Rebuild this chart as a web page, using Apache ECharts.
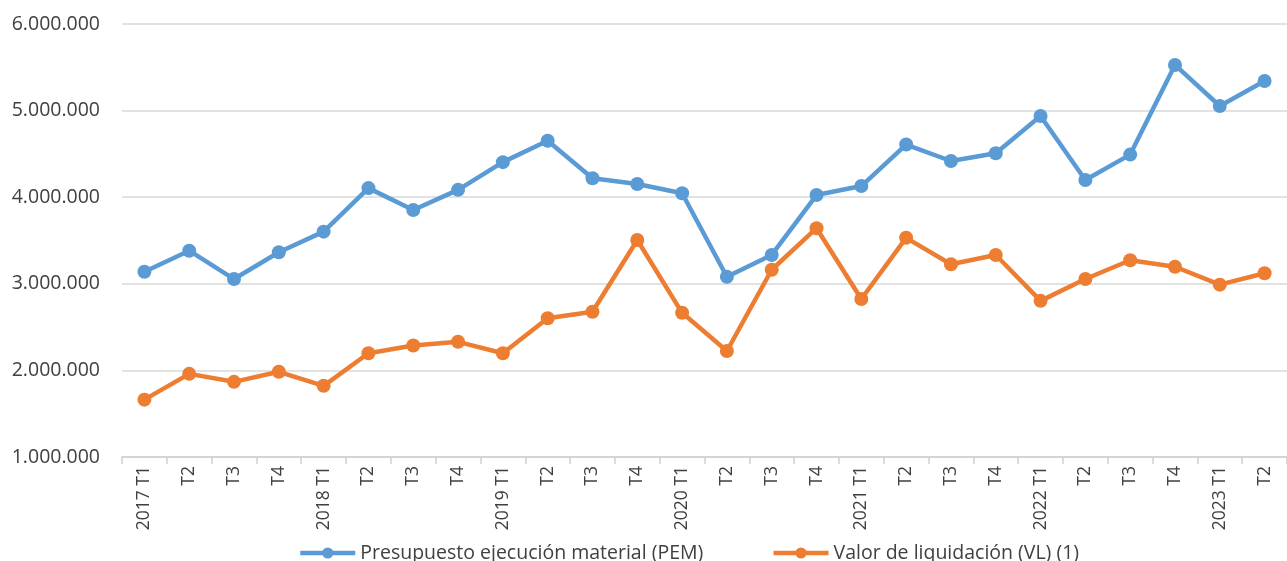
<!DOCTYPE html>
<html>
<head>
<meta charset="utf-8">
<script src="https://cdn.jsdelivr.net/npm/echarts@6/dist/echarts.min.js"></script>
<style>
html,body{margin:0;padding:0;background:#fff;}
#c{width:1287px;height:561px;}
</style>
</head>
<body>
<div id="c"></div>
<script>
const categories = ["2017 T1","T2","T3","T4","2018 T1","T2","T3","T4","2019 T1","T2","T3","T4","2020 T1","T2","T3","T4","2021 T1","T2","T3","T4","2022 T1","T2","T3","T4","2023 T1","T2"];
const pem = [3140000,3382000,3055000,3364000,3602000,4105000,3852000,4085000,4405000,4652000,4218000,4152000,4045000,3082000,3333000,4025000,4129000,4608000,4418000,4507000,4938000,4199000,4492000,5527000,5053000,5342000];
const vl = [1662000,1960000,1868000,1984000,1822000,2198000,2288000,2330000,2198000,2603000,2677000,3506000,2665000,2224000,3162000,3642000,2824000,3531000,3226000,3333000,2803000,3055000,3272000,3197000,2990000,3122000];
const seriesNames = ["Presupuesto ejecución material (PEM)","Valor de liquidación (VL) (1)"];
const yTicks = {min:1000000, max:6000000, interval:1000000};

function fmt(v){ return String(v).replace(/\B(?=(\d{3})+(?!\d))/g,'.'); }

const chart = echarts.init(document.getElementById('c'), null, {renderer:'canvas'});
const font = '"Open Sans", "Noto Sans", sans-serif';
chart.setOption({
  animation:false,
  backgroundColor:'#ffffff',
  textStyle:{fontFamily:font},
  grid:{left:122, top:24, bottom:104, width:1172, containLabel:false},
  legend:{
    bottom:-7, left:293,
    itemWidth:55, itemHeight:14, itemGap:68,
    lineStyle:{width:4.5},
    textStyle:{fontSize:19.5, color:'#404040', fontFamily:font},
    data:seriesNames
  },
  xAxis:{
    type:'category', data:categories, boundaryGap:true,
    axisLine:{lineStyle:{color:'#d0d0d0', width:1.5}},
    axisTick:{show:true, length:7, lineStyle:{color:'#d0d0d0', width:1.5}},
    axisLabel:{rotate:90, fontSize:17.5, color:'#404040', margin:9, interval:0, fontFamily:font}
  },
  yAxis:{
    type:'value', min:yTicks.min, max:yTicks.max, interval:yTicks.interval,
    axisLine:{show:false}, axisTick:{show:false},
    splitLine:{lineStyle:{color:'#d9d9d9', width:1.5}},
    axisLabel:{formatter:fmt, fontSize:19.5, color:'#404040', margin:22, fontFamily:font}
  },
  series:[
    {name:seriesNames[0], type:'line', data:pem, symbol:'circle', symbolSize:14,
     itemStyle:{color:'#5b9bd5'}, lineStyle:{color:'#5b9bd5', width:4.5}},
    {name:seriesNames[1], type:'line', data:vl, symbol:'circle', symbolSize:14,
     itemStyle:{color:'#ed7d31'}, lineStyle:{color:'#ed7d31', width:4.5}}
  ]
});
</script>
</body>
</html>
